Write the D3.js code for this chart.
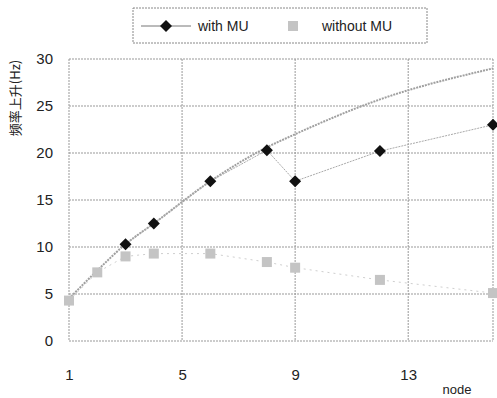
<!DOCTYPE html>
<html>
<head>
<meta charset="utf-8">
<script src="https://cdn.jsdelivr.net/npm/d3@7"></script>
<style>
  body { margin: 0; background: #fff; }
  text { font-family: "Liberation Sans", Arial, sans-serif; fill: #222; }
</style>
</head>
<body>
<svg id="chart" width="497" height="398"></svg>
<script>
// node positions and series values
const nodes = [1, 2, 3, 4, 6, 8, 9, 12, 16];
const withMU = [null, null, 10.3, 12.5, 17, 20.3, 17, 20.2, 23];
const withoutMU = [4.3, 7.3, 9.0, 9.3, 9.3, 8.4, 7.8, 6.5, 5.1];
const upperCurve = [4.5, 7.5, 10.3, 12.5, 17, 20.6, 22, 25.7, 29];
const xTicks = [1, 5, 9, 13];
const yTicks = [0, 5, 10, 15, 20, 25, 30];

const svg = d3.select('#chart');
const plotLeft = 69, plotRight = 493, plotTop = 59, plotBottom = 341;

const x = d3.scaleLinear().domain([1, 16]).range([plotLeft, plotRight]);
const y = d3.scaleLinear().domain([0, 30]).range([plotBottom, plotTop]);

// grid
const grid = svg.append('g');
grid.selectAll('.hg').data(yTicks).enter().append('line')
  .attr('x1', plotLeft).attr('x2', plotRight)
  .attr('y1', d => y(d)).attr('y2', d => y(d))
  .attr('stroke', '#999').attr('stroke-width', 1).attr('stroke-dasharray', '2,1');
grid.selectAll('.vg').data(xTicks.concat([16])).enter().append('line')
  .attr('y1', plotTop).attr('y2', plotBottom)
  .attr('x1', d => x(d)).attr('x2', d => x(d))
  .attr('stroke', '#999').attr('stroke-width', 1).attr('stroke-dasharray', '2,1');

// axes (labels only)
const yAxis = svg.append('g')
  .attr('transform', `translate(${plotLeft - 16},0)`)
  .call(d3.axisLeft(y).tickValues(yTicks).tickSize(0).tickPadding(0));
yAxis.select('.domain').remove();
yAxis.selectAll('text').style('font-size', '15px').attr('fill', '#222');

const xAxis = svg.append('g')
  .attr('transform', `translate(0,${plotBottom + 28})`)
  .call(d3.axisBottom(x).tickValues(xTicks).tickSize(0).tickPadding(0));
xAxis.select('.domain').remove();
xAxis.selectAll('text').style('font-size', '15px').attr('fill', '#222');

svg.append('text')
  .attr('x', 457).attr('y', 394)
  .attr('text-anchor', 'middle')
  .style('font-size', '13px')
  .text('node');

svg.append('text')
  .attr('transform', 'translate(20,98) rotate(-90)')
  .attr('text-anchor', 'middle')
  .style('font-size', '13px')
  .style('font-family', '"Noto Sans CJK SC", sans-serif')
  .text('频率上升(Hz)');

// series
const pts = (vals) => nodes.map((n, i) => ({ n, v: vals[i] })).filter(d => d.v != null);

const curveLine = d3.line().x(d => x(d.n)).y(d => y(d.v)).curve(d3.curveMonotoneX);
const plainLine = d3.line().x(d => x(d.n)).y(d => y(d.v));

svg.append('path').datum(pts(withoutMU))
  .attr('d', plainLine)
  .attr('fill', 'none').attr('stroke', '#cfcfcf').attr('stroke-width', 1)
  .attr('stroke-dasharray', '2,4');

svg.append('path').datum(pts(upperCurve))
  .attr('d', curveLine)
  .attr('fill', 'none').attr('stroke', '#a0a0a0').attr('stroke-width', 2)
  .attr('stroke-dasharray', '2,1');

svg.append('path').datum(pts(withMU))
  .attr('d', plainLine)
  .attr('fill', 'none').attr('stroke', '#aaa').attr('stroke-width', 1)
  .attr('stroke-dasharray', '2,1');

svg.selectAll('.sq').data(pts(withoutMU)).enter().append('rect')
  .attr('x', d => x(d.n) - 5).attr('y', d => y(d.v) - 5)
  .attr('width', 10).attr('height', 10)
  .attr('fill', '#c4c4c4');

// diamond = square turned 45 degrees
const diamond = d3.symbol().type(d3.symbolSquare).size(72);
svg.selectAll('.dm').data(pts(withMU)).enter().append('path')
  .attr('d', diamond)
  .attr('transform', d => `translate(${x(d.n)},${y(d.v)}) rotate(45)`)
  .attr('fill', '#111');

// legend
const lg = svg.append('g');
lg.append('rect')
  .attr('x', 133).attr('y', 8).attr('width', 294).attr('height', 35)
  .attr('fill', '#fff').attr('stroke', '#888').attr('stroke-dasharray', '2,1');
lg.append('line')
  .attr('x1', 141).attr('x2', 191).attr('y1', 26).attr('y2', 26)
  .attr('stroke', '#777').attr('stroke-width', 1);
lg.append('path').attr('d', diamond).attr('transform', 'translate(166,26) rotate(45)').attr('fill', '#111');
lg.append('text').attr('x', 198).attr('y', 31).style('font-size', '14px').text('with MU');
lg.append('rect').attr('x', 288).attr('y', 21).attr('width', 10).attr('height', 10).attr('fill', '#c4c4c4');
lg.append('text').attr('x', 322).attr('y', 31).style('font-size', '14px').text('without MU');
</script>
</body>
</html>
